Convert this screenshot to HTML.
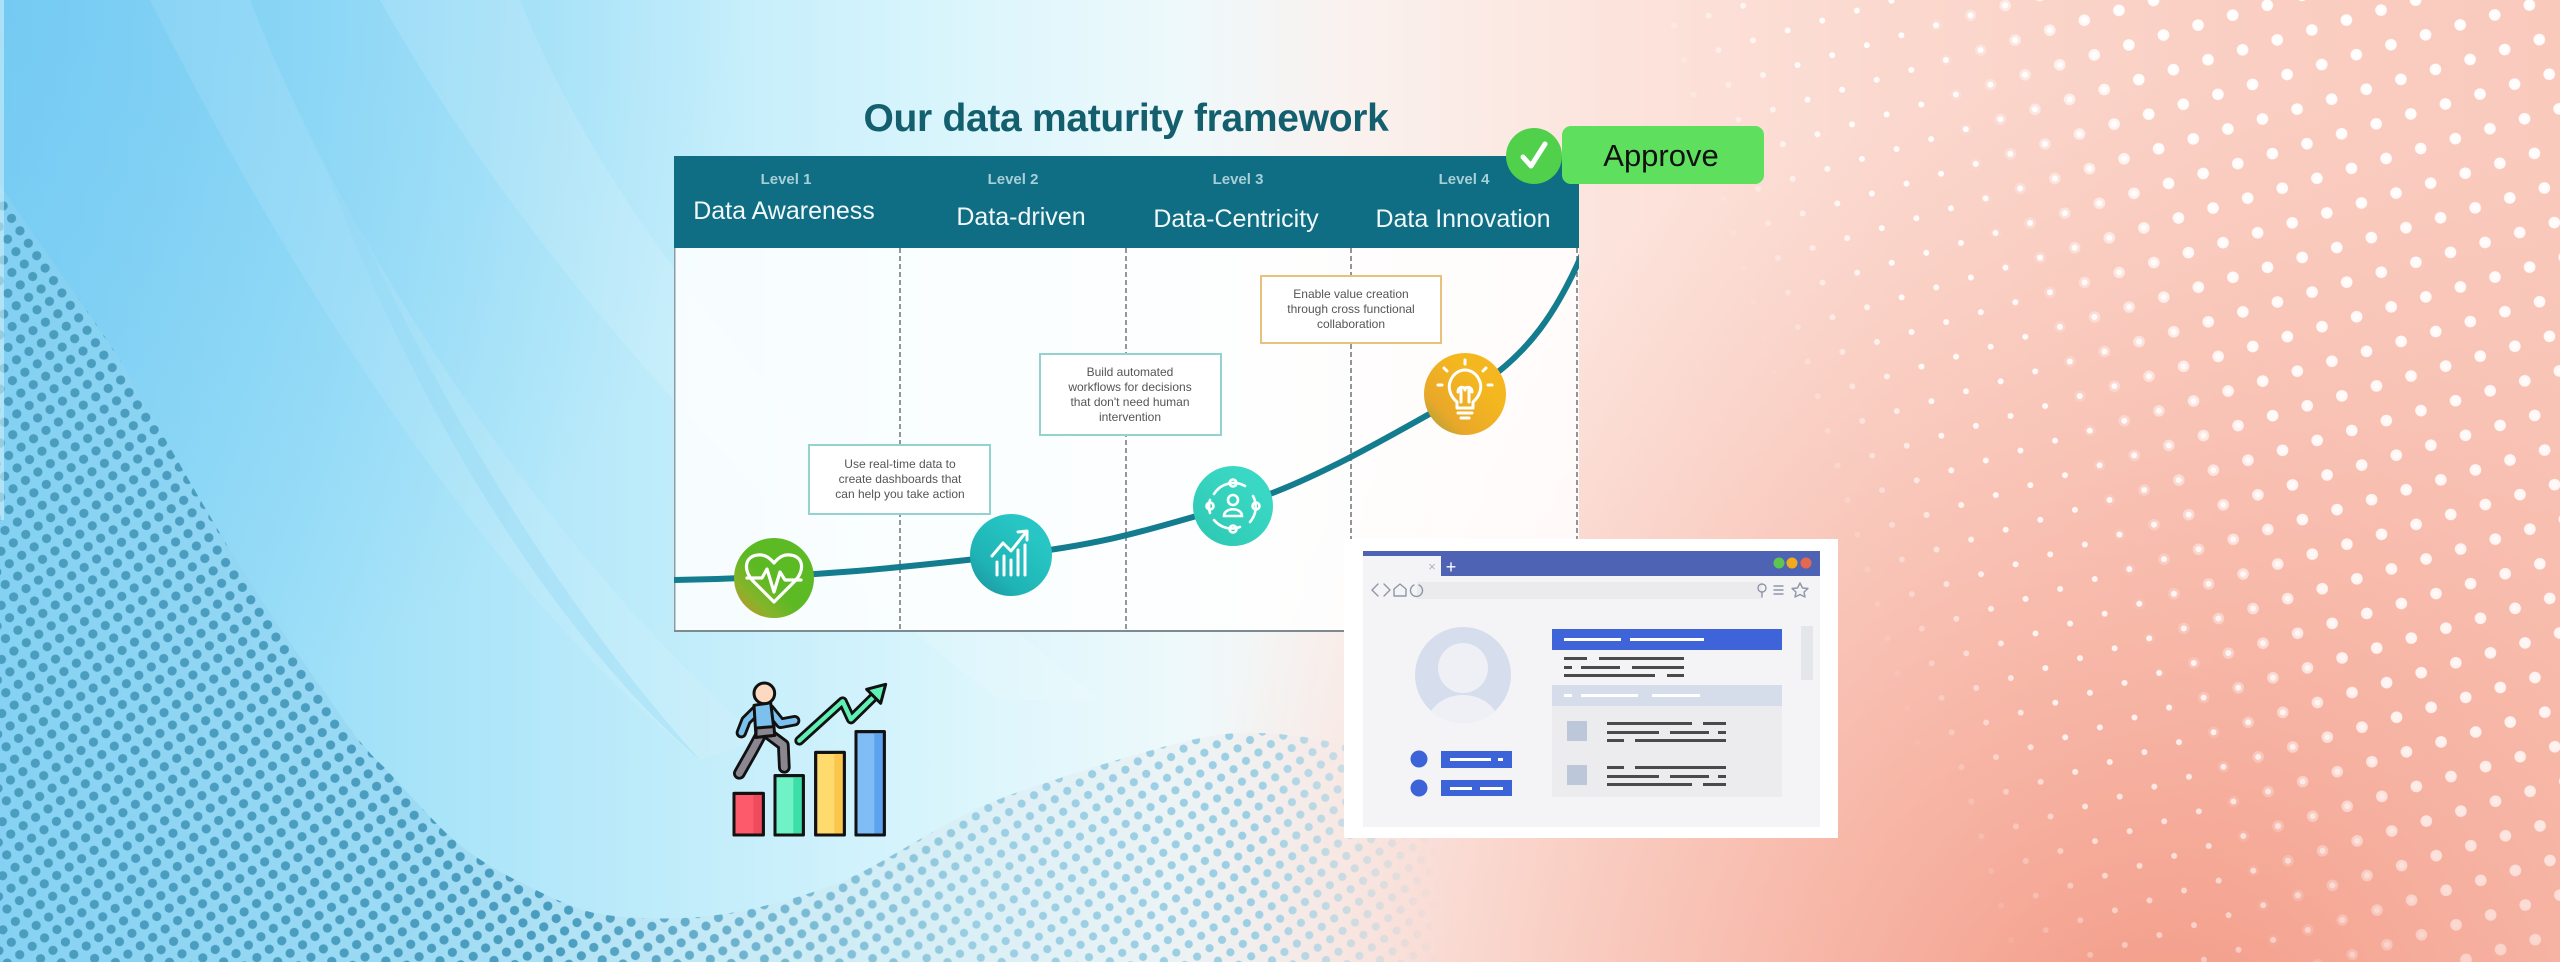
<!DOCTYPE html>
<html><head><meta charset="utf-8"><style>
html,body{margin:0;padding:0;width:2560px;height:962px;overflow:hidden;background:#f3f4f4}
svg{display:block}
text{font-family:"Liberation Sans",Arial,sans-serif}
</style></head><body>
<svg width="2560" height="962" viewBox="0 0 2560 962" xmlns="http://www.w3.org/2000/svg">
<defs>
  <linearGradient id="bg" x1="0" y1="0" x2="1" y2="0">
    <stop offset="0" stop-color="#84d2f5"/>
    <stop offset=".12" stop-color="#9ddff8"/>
    <stop offset=".25" stop-color="#bdebfa"/>
    <stop offset=".37" stop-color="#d9f5fc"/>
    <stop offset=".46" stop-color="#eef9fb"/>
    <stop offset=".53" stop-color="#faf1ee"/>
    <stop offset=".62" stop-color="#fce5de"/>
    <stop offset=".74" stop-color="#fbd8ce"/>
    <stop offset=".87" stop-color="#facfc3"/>
    <stop offset="1" stop-color="#f9c9bc"/>
  </linearGradient>
  <radialGradient id="br" gradientUnits="userSpaceOnUse" cx="2150" cy="1080" r="1000">
    <stop offset="0" stop-color="#f28d77" stop-opacity=".85"/>
    <stop offset=".55" stop-color="#f4a08d" stop-opacity=".4"/>
    <stop offset="1" stop-color="#f6b0a0" stop-opacity="0"/>
  </radialGradient>
  <radialGradient id="tl" gradientUnits="userSpaceOnUse" cx="0" cy="0" r="750">
    <stop offset="0" stop-color="#6ac5f1" stop-opacity=".6"/>
    <stop offset="1" stop-color="#6ac5f1" stop-opacity="0"/>
  </radialGradient>
  <linearGradient id="regionFill" gradientUnits="userSpaceOnUse" x1="0" y1="0" x2="1440" y2="0">
    <stop offset="0" stop-color="#86d1f2"/>
    <stop offset=".3" stop-color="#9ad8f2"/>
    <stop offset=".5" stop-color="#c6e9f5"/>
    <stop offset=".72" stop-color="#dfedf2" stop-opacity=".8"/>
    <stop offset=".88" stop-color="#eee8e8" stop-opacity=".35"/>
    <stop offset="1" stop-color="#f5e3df" stop-opacity="0"/>
  </linearGradient>
  <pattern id="dotsL" width="15" height="15" patternUnits="userSpaceOnUse" patternTransform="rotate(56)">
    <circle cx="7.5" cy="7.5" r="4.6" fill="#4a9dbf"/>
  </pattern>
  <pattern id="dotsH" width="15" height="15" patternUnits="userSpaceOnUse" patternTransform="rotate(56)">
    <circle cx="7.5" cy="7.5" r="4.1" fill="#9ccfe3"/>
  </pattern>
  <pattern id="dotsRs" width="36" height="36" patternUnits="userSpaceOnUse" patternTransform="rotate(-16)">
    <circle cx="18" cy="18" r="3" fill="#ffffff"/>
  </pattern>
  <pattern id="dotsRb" width="36" height="36" patternUnits="userSpaceOnUse" patternTransform="rotate(-16)">
    <circle cx="18" cy="18" r="5.8" fill="#ffffff"/>
  </pattern>
  <linearGradient id="gRs" gradientUnits="userSpaceOnUse" x1="1624" y1="0" x2="1764" y2="-53">
    <stop offset="0" stop-color="#000"/>
    <stop offset="1" stop-color="#fff"/>
  </linearGradient>
  <linearGradient id="gRb" gradientUnits="userSpaceOnUse" x1="1857" y1="-89" x2="2044" y2="-160">
    <stop offset="0" stop-color="#000"/>
    <stop offset="1" stop-color="#fff"/>
  </linearGradient>
  <linearGradient id="gRv" x1="0" y1="0" x2="0" y2="1">
    <stop offset="0" stop-color="#fff"/>
    <stop offset=".75" stop-color="#ddd"/>
    <stop offset="1" stop-color="#777"/>
  </linearGradient>
  <mask id="mRs"><rect x="0" y="0" width="2560" height="962" fill="url(#gRs)"/></mask>
  <mask id="mRb"><rect x="0" y="0" width="2560" height="962" fill="url(#gRb)"/></mask>
  <mask id="mRv"><rect x="0" y="0" width="2560" height="962" fill="url(#gRv)"/></mask>
  <linearGradient id="gDark" gradientUnits="userSpaceOnUse" x1="560" y1="0" x2="980" y2="0">
    <stop offset="0" stop-color="#fff"/>
    <stop offset="1" stop-color="#000"/>
  </linearGradient>
  <mask id="mDark"><rect x="0" y="0" width="2560" height="962" fill="url(#gDark)"/></mask>
  <linearGradient id="gLight" gradientUnits="userSpaceOnUse" x1="1250" y1="0" x2="1440" y2="0">
    <stop offset="0" stop-color="#fff"/>
    <stop offset="1" stop-color="#000"/>
  </linearGradient>
  <mask id="mLight"><rect x="0" y="0" width="2560" height="962" fill="url(#gLight)"/></mask>
  <clipPath id="panelBody"><rect x="674" y="248" width="905" height="384"/></clipPath>
  <linearGradient id="ic1" x1="0" y1="1" x2=".7" y2=".3">
    <stop offset="0" stop-color="#d48a2e"/><stop offset=".35" stop-color="#86b42a"/><stop offset=".65" stop-color="#5cb924"/><stop offset="1" stop-color="#5cba25"/>
  </linearGradient>
  <linearGradient id="ic2" x1="0" y1="1" x2=".7" y2=".2">
    <stop offset="0" stop-color="#1a8f99"/><stop offset=".4" stop-color="#1fb3b6"/><stop offset="1" stop-color="#27c6c4"/>
  </linearGradient>
  <linearGradient id="ic3" x1="0" y1="1" x2=".7" y2=".2">
    <stop offset="0" stop-color="#2cc7b3"/><stop offset="1" stop-color="#3ad8c4"/>
  </linearGradient>
  <linearGradient id="ic4" x1="0" y1=".9" x2=".6" y2=".3">
    <stop offset="0" stop-color="#a9a23a"/><stop offset=".35" stop-color="#e9a829"/><stop offset="1" stop-color="#f4b71f"/>
  </linearGradient>
  <clipPath id="avClip"><circle cx="1463" cy="675" r="48"/></clipPath>
</defs>

<!-- background -->
<rect x="0" y="0" width="2560" height="962" fill="url(#bg)"/>
<rect x="0" y="0" width="2560" height="962" fill="url(#br)"/>
<rect x="0" y="0" width="2560" height="962" fill="url(#tl)"/>
<path d="M380,0 C520,250 760,520 1000,700 L1100,700 C850,500 620,250 520,0 Z" fill="#ffffff" opacity=".12"/>
<path d="M150,0 C300,300 500,600 700,760 L760,740 C560,560 360,280 250,0 Z" fill="#ffffff" opacity=".1"/>
<path d="M260,0 C380,300 520,560 700,760 C560,640 420,420 330,180 Z" fill="#8fd6f3" opacity=".35"/>

<!-- bottom/left dotted wave region -->
<path d="M0,185 C50,260 95,320 120,360 C160,430 200,500 230,550 C260,600 295,650 330,700 C350,730 365,750 384,767 C405,790 425,812 446,833 C470,855 495,870 522,883 C550,897 570,907 594,913 C630,920 670,919 700,917 C750,912 800,898 838,883 C870,870 900,850 931,833 C962,815 993,800 1024,790 C1060,778 1090,768 1117,760 C1160,748 1200,735 1238,733 C1280,732 1320,738 1350,747 C1380,756 1400,762 1440,775 L1440,962 L0,962 Z" fill="url(#regionFill)" opacity=".75"/>
<g mask="url(#mLight)">
<path d="M0,185 C50,260 95,320 120,360 C160,430 200,500 230,550 C260,600 295,650 330,700 C350,730 365,750 384,767 C405,790 425,812 446,833 C470,855 495,870 522,883 C550,897 570,907 594,913 C630,920 670,919 700,917 C750,912 800,898 838,883 C870,870 900,850 931,833 C962,815 993,800 1024,790 C1060,778 1090,768 1117,760 C1160,748 1200,735 1238,733 C1280,732 1320,738 1350,747 C1380,756 1400,762 1440,775 L1440,962 L0,962 Z" fill="url(#dotsH)"/>
</g>
<g mask="url(#mDark)">
<path d="M0,185 C50,260 95,320 120,360 C160,430 200,500 230,550 C260,600 295,650 330,700 C350,730 365,750 384,767 C405,790 425,812 446,833 C470,855 495,870 522,883 C550,897 570,907 594,913 C630,920 670,919 700,917 C750,912 800,898 838,883 C870,870 900,850 931,833 C962,815 993,800 1024,790 L1024,962 L0,962 Z" fill="url(#dotsL)"/>
</g>
<rect x="0" y="0" width="4" height="520" fill="#d6f2fb" opacity=".55"/>

<!-- right white dots -->
<g mask="url(#mRv)">
  <g mask="url(#mRs)"><rect x="1560" y="0" width="1000" height="962" fill="url(#dotsRs)" opacity=".95"/></g>
  <g mask="url(#mRb)"><rect x="1560" y="0" width="1000" height="962" fill="url(#dotsRb)" opacity=".95"/></g>
</g>

<!-- Title -->
<text x="1126" y="131" text-anchor="middle" font-size="39" font-weight="700" fill="#135f6e" letter-spacing="-0.3">Our data maturity framework</text>

<!-- Panel -->
<rect x="674" y="248" width="905" height="384" fill="#ffffff" opacity=".86"/>
<rect x="674" y="156" width="905" height="92" fill="#0f6e83"/>
<line x1="674.75" y1="248" x2="674.75" y2="632" stroke="#8c9ca1" stroke-width="1.5"/>
<line x1="674" y1="631" x2="1579" y2="631" stroke="#7d8b90" stroke-width="2"/>
<g stroke="#6f7577" stroke-width="1.5" stroke-dasharray="5,3">
  <line x1="900" y1="248" x2="900" y2="631"/>
  <line x1="1126" y1="248" x2="1126" y2="631"/>
  <line x1="1351" y1="248" x2="1351" y2="631"/>
  <line x1="1577" y1="248" x2="1577" y2="631"/>
</g>
<g font-size="15" font-weight="700" fill="#a6cfd8" text-anchor="middle">
  <text x="786" y="184">Level 1</text>
  <text x="1013" y="184">Level 2</text>
  <text x="1238" y="184">Level 3</text>
  <text x="1464" y="184">Level 4</text>
</g>
<g font-size="25" fill="#f2f8f9" text-anchor="middle">
  <text x="784" y="219">Data Awareness</text>
  <text x="1021" y="225">Data-driven</text>
  <text x="1236" y="227">Data-Centricity</text>
  <text x="1463" y="227">Data Innovation</text>
</g>

<!-- curve -->
<g clip-path="url(#panelBody)">
<path d="M674,580 C800,578 900,568 1011,555 S1160,525 1233,506 S1400,430 1465,394 S1560,305 1583,252" fill="none" stroke="#137c8e" stroke-width="6"/>
</g>

<!-- text boxes -->
<rect x="809" y="445" width="181" height="69" fill="#ffffff" stroke="#93d3cf" stroke-width="2"/>
<g font-size="12" fill="#555" text-anchor="middle">
  <text x="900" y="468">Use real-time data to</text>
  <text x="900" y="483">create dashboards that</text>
  <text x="900" y="498">can help you take action</text>
</g>
<rect x="1040" y="354" width="181" height="81" fill="#ffffff" stroke="#93d3cf" stroke-width="2"/>
<g font-size="12" fill="#555" text-anchor="middle">
  <text x="1130" y="376">Build automated</text>
  <text x="1130" y="391">workflows for decisions</text>
  <text x="1130" y="406">that don't need human</text>
  <text x="1130" y="421">intervention</text>
</g>
<rect x="1261" y="276" width="180" height="67" fill="#ffffff" stroke="#e8c27c" stroke-width="2"/>
<g font-size="12" fill="#555" text-anchor="middle">
  <text x="1351" y="298">Enable value creation</text>
  <text x="1351" y="313">through cross functional</text>
  <text x="1351" y="328">collaboration</text>
</g>

<!-- icon circles -->
<circle cx="774" cy="578" r="40" fill="url(#ic1)"/>
<g fill="none" stroke="#ffffff" stroke-width="3.2" stroke-linejoin="round" stroke-linecap="round">
  <path d="M774,602 L754,582 C742,570 745,556 758,555 C765,554 770,558 774,563 C778,558 783,554 790,555 C803,556 806,570 794,582 Z"/>
  <path d="M747,578 L762,578 L767,569 L774,592 L780,572 L785,580 L801,580"/>
</g>
<circle cx="1011" cy="555" r="41" fill="url(#ic2)"/>
<g fill="none" stroke="#ffffff" stroke-width="3" stroke-linecap="round" stroke-linejoin="round">
  <line x1="997" y1="575" x2="997" y2="562"/>
  <line x1="1004" y1="575" x2="1004" y2="556"/>
  <line x1="1011" y1="575" x2="1011" y2="560"/>
  <line x1="1018" y1="575" x2="1018" y2="550"/>
  <line x1="1025" y1="575" x2="1025" y2="545"/>
  <path d="M992,556 L1003,543 L1011,551 L1026,532"/>
  <path d="M1018,532 L1027,531 L1027,540"/>
</g>
<circle cx="1233" cy="506" r="40" fill="url(#ic3)"/>
<g fill="none" stroke="#ffffff" stroke-width="2.6" stroke-linecap="round">
  <path d="M1214,494 A23,23 0 0 1 1245,486"/>
  <path d="M1253,496 A23,23 0 0 1 1250,522"/>
  <path d="M1240,527 A23,23 0 0 1 1214,520"/>
  <path d="M1210,513 A23,23 0 0 1 1210,500"/>
  <circle cx="1233" cy="483" r="3.5"/>
  <circle cx="1256" cy="506" r="3.5"/>
  <circle cx="1233" cy="529" r="3.5"/>
  <circle cx="1210" cy="506" r="3.5"/>
  <circle cx="1233" cy="500" r="5"/>
  <path d="M1224,516 C1224,507 1242,507 1242,516 Z"/>
</g>
<circle cx="1465" cy="394" r="41" fill="url(#ic4)"/>
<g fill="none" stroke="#ffffff" stroke-width="3" stroke-linecap="round" stroke-linejoin="round">
  <path d="M1457,402 C1450,396 1448,388 1450,382 C1453,373 1460,370 1465,370 C1470,370 1477,373 1480,382 C1482,388 1480,396 1473,402 L1473,408 L1457,408 Z"/>
  <line x1="1458" y1="413" x2="1472" y2="413"/>
  <line x1="1461" y1="418" x2="1469" y2="418"/>
  <path d="M1461,402 L1461,390 M1469,402 L1469,390 M1458,392 C1458,386 1465,386 1465,390 C1465,386 1472,386 1472,392"/>
  <line x1="1465" y1="360" x2="1465" y2="364"/>
  <line x1="1444" y1="368" x2="1447" y2="371"/>
  <line x1="1486" y1="368" x2="1483" y2="371"/>
  <line x1="1438" y1="385" x2="1442" y2="385"/>
  <line x1="1492" y1="385" x2="1488" y2="385"/>
</g>

<!-- Approve -->
<circle cx="1534" cy="156" r="28" fill="#50d04b"/>
<path d="M1523,157 L1531,166 L1545,144" fill="none" stroke="#ffffff" stroke-width="5" stroke-linecap="round" stroke-linejoin="round"/>
<rect x="1562" y="126" width="202" height="58" rx="9" fill="#5fdf5e"/>
<text x="1661" y="166" text-anchor="middle" font-size="31" fill="#111">Approve</text>

<!-- Browser mockup -->
<rect x="1344" y="539" width="494" height="299" fill="#ffffff"/>
<rect x="1363" y="551" width="457" height="276" fill="#f4f4f6"/>
<rect x="1363" y="551" width="457" height="25" fill="#4e63b4"/>
<rect x="1363" y="556" width="78" height="20" fill="#f4f4f6"/>
<text x="1432" y="571" text-anchor="middle" font-size="13" fill="#b0b3bb">×</text>
<text x="1451" y="573" text-anchor="middle" font-size="18" fill="#ffffff">+</text>
<circle cx="1779" cy="563" r="5.5" fill="#5fc450"/>
<circle cx="1792" cy="563" r="5.5" fill="#f0aa1c"/>
<circle cx="1806" cy="563" r="5.5" fill="#e4684f"/>
<rect x="1417" y="582" width="345" height="17" fill="#ebebee"/>
<g fill="none" stroke="#8e96a8" stroke-width="1.4" stroke-linecap="round" stroke-linejoin="round">
  <path d="M1378,584 L1372,590 L1378,596"/>
  <path d="M1384,584 L1390,590 L1384,596"/>
  <path d="M1394,596 L1394,589 L1400,584 L1406,589 L1406,596 Z"/>
  <path d="M1414,585 A6,6 0 1 0 1419,585"/>
  <circle cx="1762" cy="588" r="4"/>
  <line x1="1762" y1="592" x2="1762" y2="597"/>
  <path d="M1774,586 L1783,586 M1774,590 L1783,590 M1774,594 L1783,594"/>
  <path d="M1800,583 L1802.5,588 L1808,588.5 L1804,592 L1805,597 L1800,594.5 L1795,597 L1796,592 L1792,588.5 L1797.5,588 Z"/>
</g>
<circle cx="1463" cy="675" r="48" fill="#d6ddec"/>
<g clip-path="url(#avClip)">
  <ellipse cx="1463" cy="725" rx="36" ry="30" fill="#eef0f6"/>
</g>
<circle cx="1463" cy="668" r="25" fill="#eef0f6"/>
<circle cx="1419" cy="759" r="8.5" fill="#3d63d9"/>
<circle cx="1419" cy="788" r="8.5" fill="#3d63d9"/>
<rect x="1441" y="751" width="71" height="17" fill="#3d63d9"/>
<rect x="1441" y="780" width="71" height="16" fill="#3d63d9"/>
<g fill="#ffffff">
  <rect x="1450" y="758" width="41" height="3"/>
  <rect x="1498" y="758" width="5" height="3"/>
  <rect x="1450" y="787" width="22" height="3"/>
  <rect x="1480" y="787" width="23" height="3"/>
</g>
<rect x="1552" y="629" width="230" height="21" fill="#3f63d8"/>
<g fill="#ffffff">
  <rect x="1564" y="638" width="57" height="3"/>
  <rect x="1630" y="638" width="74" height="3"/>
</g>
<g fill="#4a4a4a">
  <rect x="1564" y="657" width="23" height="3"/><rect x="1599" y="657" width="85" height="3"/>
  <rect x="1564" y="666" width="8" height="3"/><rect x="1581" y="666" width="39" height="3"/><rect x="1632" y="666" width="52" height="3"/>
  <rect x="1564" y="674" width="91" height="3"/><rect x="1667" y="674" width="17" height="3"/>
</g>
<rect x="1552" y="685" width="230" height="21" fill="#d5dcea"/>
<g fill="#ffffff">
  <rect x="1564" y="694" width="8" height="3"/>
  <rect x="1581" y="694" width="57" height="3"/>
  <rect x="1652" y="694" width="48" height="3"/>
</g>
<rect x="1552" y="706" width="230" height="91" fill="#ececee"/>
<rect x="1567" y="721" width="20" height="20" fill="#bdc7da"/>
<rect x="1567" y="765" width="20" height="20" fill="#bdc7da"/>
<g fill="#4a4a4a">
  <rect x="1607" y="722" width="85" height="3"/><rect x="1703" y="722" width="23" height="3"/>
  <rect x="1607" y="731" width="52" height="3"/><rect x="1670" y="731" width="39" height="3"/><rect x="1718" y="731" width="8" height="3"/>
  <rect x="1607" y="739" width="17" height="3"/><rect x="1635" y="739" width="91" height="3"/>
  <rect x="1607" y="766" width="17" height="3"/><rect x="1635" y="766" width="91" height="3"/>
  <rect x="1607" y="775" width="52" height="3"/><rect x="1670" y="775" width="39" height="3"/><rect x="1718" y="775" width="8" height="3"/>
  <rect x="1607" y="783" width="85" height="3"/><rect x="1703" y="783" width="23" height="3"/>
</g>
<rect x="1801" y="626" width="12" height="54" fill="#e4e6ea"/>

<!-- growth icon -->
<g transform="translate(720,670) scale(0.3333)" stroke="#111" stroke-width="9" stroke-linejoin="round" stroke-linecap="round">
  <rect x="42" y="370" width="88" height="125" fill="#fd5b6b"/>
  <rect x="100" y="374" width="26" height="117" fill="#ef4a5e" stroke="none"/>
  <rect x="42" y="370" width="88" height="125" fill="none"/>
  <rect x="165" y="317" width="85" height="178" fill="#6ff2c6"/>
  <rect x="220" y="321" width="26" height="170" fill="#3ddfa9" stroke="none"/>
  <rect x="165" y="317" width="85" height="178" fill="none"/>
  <rect x="287" y="247" width="86" height="248" fill="#ffdb6e"/>
  <rect x="343" y="251" width="26" height="240" fill="#fbc64c" stroke="none"/>
  <rect x="287" y="247" width="86" height="248" fill="none"/>
  <rect x="408" y="185" width="85" height="310" fill="#80bdf6"/>
  <rect x="463" y="189" width="26" height="302" fill="#5ca3ef" stroke="none"/>
  <rect x="408" y="185" width="85" height="310" fill="none"/>
  <path d="M238,212 L368,94 L393,148 L462,80" fill="none" stroke="#111" stroke-width="30"/>
  <path d="M238,212 L368,94 L393,148 L462,80" fill="none" stroke="#5ef0b5" stroke-width="13"/>
  <path d="M497,43 L440,58 L482,100 Z" fill="#5ef0b5"/>
  <path d="M122,195 L95,245 L58,310" fill="none" stroke="#111" stroke-width="38"/>
  <path d="M150,195 L190,225 L193,292" fill="none" stroke="#111" stroke-width="38"/>
  <path d="M122,195 L95,245 L58,310" fill="none" stroke="#8b8790" stroke-width="21"/>
  <path d="M150,195 L190,225 L193,292" fill="none" stroke="#8b8790" stroke-width="21"/>
  <path d="M112,118 L78,152 L64,188" fill="none" stroke="#111" stroke-width="34"/>
  <path d="M148,118 L182,160 L224,152" fill="none" stroke="#111" stroke-width="34"/>
  <path d="M112,118 L78,152 L64,188" fill="none" stroke="#7cc1ee" stroke-width="17"/>
  <path d="M148,118 L182,160 L224,152" fill="none" stroke="#7cc1ee" stroke-width="17"/>
  <path d="M102,106 L152,98 L164,196 L108,202 Z" fill="#7cc1ee"/>
  <path d="M108,174 L162,170 L164,196 L108,202 Z" fill="#8b8790"/>
  <circle cx="133" cy="70" r="31" fill="#fcd9c1"/>
</g>
</svg>
</body></html>
